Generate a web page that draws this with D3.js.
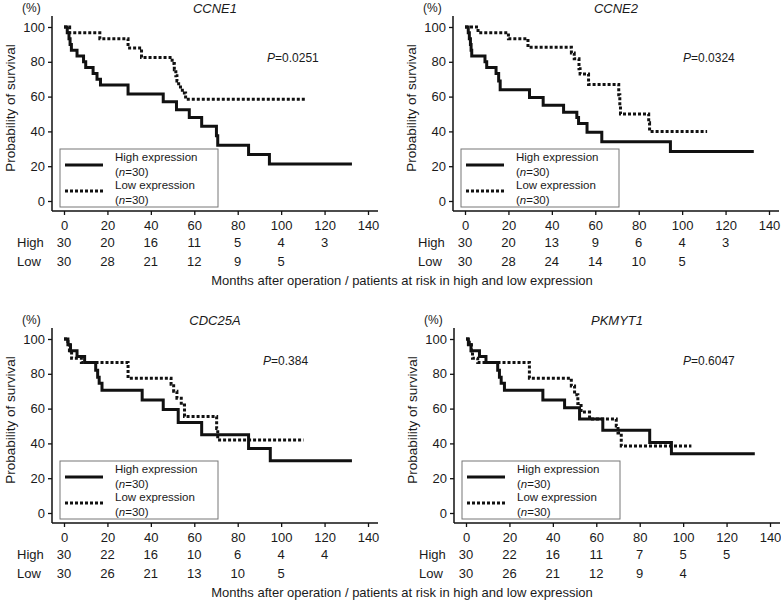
<!DOCTYPE html>
<html>
<head>
<meta charset="utf-8">
<script src="https://cdn.jsdelivr.net/npm/d3@7"></script>
<style>
  body { margin: 0; background: #fff; }
  text { font-family: "Liberation Sans", Arial, sans-serif; fill: #1a1a1a; }
</style>
</head>
<body>
<svg id="chart" width="781" height="600"></svg>
<script>
var xTicks = [0, 20, 40, 60, 80, 100, 120, 140];
var yTicks = [0, 20, 40, 60, 80, 100];
var riskTimes = [0, 20, 40, 60, 80, 100, 120];

// Kaplan-Meier steps: [month, survival %]
var ccne1High = [[0,100],[1.5,96.7],[2.3,93.3],[2.8,90],[3.4,86.7],[6,83.3],[9,80],[10,76.7],[13.4,73.3],[15.2,70],[16.8,66.7],[29.5,61.5],[45.7,57],[51.8,52.5],[57.7,48],[63.4,43],[70.2,37.5],[70.8,32],[85,26.7],[94.6,21.3],[132.6,21.3]];
var ccne1Low  = [[0,100],[2.6,96.7],[16.5,93.3],[29.5,88],[35.7,82.5],[49.8,79],[50.8,75.5],[51.5,72],[52,69],[52.8,65.5],[54.5,62],[56,58.5],[111,58.5]];
var ccne2High = [[0,100],[1.5,96.7],[2,93.3],[2.5,90],[2.8,86.7],[3.1,83.3],[9.2,80],[10,76.7],[14.3,73.3],[15.5,69],[16.2,64],[29.7,59.5],[36,55],[45.4,51],[51.5,48],[52.3,44.5],[56.2,39.5],[63,34],[94.6,28.5],[133,28.5]];
var ccne2Low  = [[0,100],[6,96.7],[20,93.3],[29,88.3],[49,85],[50.3,81.7],[52.5,76],[53,73],[56.9,67],[70.8,61],[71.3,55],[71.6,50],[84.6,45],[85,40],[111.5,40]];
var cdc25aHigh = [[0,100],[1.8,96.7],[3,93.3],[6,90],[9.5,86.5],[14.6,82],[15.5,78],[16.2,74.5],[17.5,70.5],[36,65],[45.7,59.5],[52.6,52],[63.4,45],[85,37],[95,30],[132.6,30]];
var cdc25aLow  = [[0,100],[1.8,96.7],[2.5,93.3],[3.5,89],[8,86.5],[29.5,77.5],[49.3,74],[50.5,70],[52,66],[54,62],[55.5,55.5],[70.3,48.5],[70.8,42],[110.3,42]];
var pkmyt1High = [[0,100],[1.1,96.7],[2.3,93.3],[6.2,90],[9.2,86.5],[14.6,82],[15.4,78],[16.2,74.5],[17.7,70.5],[35.4,65],[45.4,60.5],[52.3,54],[63,47.5],[84.6,40.5],[94.6,34],[133,34]];
var pkmyt1Low  = [[0,100],[1.5,96.7],[2.5,93.3],[3,89],[5.4,86.5],[29.2,77.5],[48.5,73],[50,68],[51.5,63],[53,58],[56.9,54],[69.2,50],[70,46],[71.5,38.5],[103.8,38.5]];

// patients at risk
var ccne1RiskHigh = [30, 20, 16, 11, 5, 4, 3];
var ccne1RiskLow  = [30, 28, 21, 12, 9, 5];
var ccne2RiskHigh = [30, 20, 13, 9, 6, 4, 3];
var ccne2RiskLow  = [30, 28, 24, 14, 10, 5];
var cdc25aRiskHigh = [30, 22, 16, 10, 6, 4, 4];
var cdc25aRiskLow  = [30, 26, 21, 13, 10, 5];
var pkmyt1RiskHigh = [30, 22, 16, 11, 7, 5, 5];
var pkmyt1RiskLow  = [30, 26, 21, 12, 9, 4];

var genes = ["CCNE1", "CCNE2", "CDC25A", "PKMYT1"];
var pValues = ["0.0251", "0.0324", "0.384", "0.6047"];

var panels = [
  {gene: genes[0], p: pValues[0], high: ccne1High, low: ccne1Low, rh: ccne1RiskHigh, rl: ccne1RiskLow, dx: 0, dy: 0, px: 267, py: 58},
  {gene: genes[1], p: pValues[1], high: ccne2High, low: ccne2Low, rh: ccne2RiskHigh, rl: ccne2RiskLow, dx: 401, dy: 0, px: 282, py: 58},
  {gene: genes[2], p: pValues[2], high: cdc25aHigh, low: cdc25aLow, rh: cdc25aRiskHigh, rl: cdc25aRiskLow, dx: 0, dy: 312, px: 263, py: 49},
  {gene: genes[3], p: pValues[3], high: pkmyt1High, low: pkmyt1Low, rh: pkmyt1RiskHigh, rl: pkmyt1RiskLow, dx: 402, dy: 312, px: 281, py: 49}
];

var svg = d3.select("#chart");

var x = d3.scaleLinear().domain([0, 140]).range([64, 368]);
var y = d3.scaleLinear().domain([0, 100]).range([201, 27]);
var axisY = 211, axisX = 52;

var line = d3.line()
  .x(function(d){ return x(d[0]); })
  .y(function(d){ return y(d[1]); })
  .curve(d3.curveStepAfter);

panels.forEach(function(p, i) {
  var g = svg.append("g").attr("transform", "translate(" + p.dx + "," + p.dy + ")");

  // axes
  var ya = g.append("g").attr("transform", "translate(" + axisX + ",0)")
    .call(d3.axisLeft(y).tickValues(yTicks).tickSize(4).tickPadding(3).tickSizeOuter(0));
  var xa = g.append("g").attr("transform", "translate(0," + axisY + ")")
    .call(d3.axisBottom(x).tickValues(xTicks).tickSize(4).tickPadding(6).tickSizeOuter(0));
  [ya, xa].forEach(function(a){
    a.select(".domain").remove();
    a.selectAll("line").attr("stroke", "#111").attr("stroke-width", 1.3);
    a.selectAll("text").style("font-size", "13px").attr("fill", "#1a1a1a");
  });
  g.append("line").attr("x1", axisX).attr("x2", axisX).attr("y1", 16).attr("y2", axisY)
    .attr("stroke", "#111").attr("stroke-width", 1.5);
  g.append("line").attr("x1", axisX).attr("x2", 378).attr("y1", axisY).attr("y2", axisY)
    .attr("stroke", "#111").attr("stroke-width", 1.5);

  // labels
  g.append("text").attr("x", 22).attr("y", 8).attr("dy", "0.35em")
    .style("font-size", "12px").text("(%)");
  g.append("text").attr("x", 215).attr("y", 8).attr("dy", "0.35em")
    .attr("text-anchor", "middle").style("font-size", "13px").style("font-style", "italic")
    .text(p.gene);
  g.append("text").attr("transform", "translate(10,108) rotate(-90)")
    .attr("text-anchor", "middle").attr("dy", "0.35em").style("font-size", "13.5px")
    .text("Probability of survival");
  var pt = g.append("text").attr("x", p.px).attr("y", p.py).attr("dy", "0.35em").style("font-size", "12px");
  pt.append("tspan").style("font-style", "italic").text("P");
  pt.append("tspan").text("=" + p.p);

  // curves
  g.append("path").datum(p.low).attr("d", line).attr("fill", "none")
    .attr("stroke", "#111").attr("stroke-width", 3).attr("stroke-dasharray", "3,2");
  g.append("path").datum(p.high).attr("d", line).attr("fill", "none")
    .attr("stroke", "#111").attr("stroke-width", 3);

  // legend
  var lg = g.append("g");
  lg.append("rect").attr("x", 60).attr("y", 149).attr("width", 158).attr("height", 58)
    .attr("fill", "#fff").attr("stroke", "#777").attr("stroke-width", 1);
  lg.append("line").attr("x1", 65).attr("x2", 103).attr("y1", 165).attr("y2", 165)
    .attr("stroke", "#111").attr("stroke-width", 3);
  lg.append("line").attr("x1", 65).attr("x2", 103).attr("y1", 191).attr("y2", 191)
    .attr("stroke", "#111").attr("stroke-width", 3).attr("stroke-dasharray", "3,2");
  var legRows = [["High expression", null, 157], [null, "30", 172], ["Low expression", null, 185], [null, "30", 200]];
  legRows.forEach(function(r) {
    var t = lg.append("text").attr("x", 115).attr("y", r[2]).attr("dy", "0.35em").style("font-size", "11.5px");
    if (r[0]) { t.text(r[0]); }
    else {
      t.append("tspan").text("(");
      t.append("tspan").style("font-style", "italic").text("n");
      t.append("tspan").text("=" + r[1] + ")");
    }
  });

  // risk table
  g.append("text").attr("x", 17).attr("y", 242).attr("dy", "0.35em").style("font-size", "13px").text("High");
  g.append("text").attr("x", 17).attr("y", 261).attr("dy", "0.35em").style("font-size", "13px").text("Low");
  g.selectAll("text.rh").data(p.rh).enter().append("text").attr("class", "rh")
    .attr("x", function(d, k){ return x(riskTimes[k]); }).attr("y", 242).attr("dy", "0.35em")
    .attr("text-anchor", "middle").style("font-size", "13px").text(function(d){ return d; });
  g.selectAll("text.rl").data(p.rl).enter().append("text").attr("class", "rl")
    .attr("x", function(d, k){ return x(riskTimes[k]); }).attr("y", 261).attr("dy", "0.35em")
    .attr("text-anchor", "middle").style("font-size", "13px").text(function(d){ return d; });

  if (i % 2 === 0) {
    svg.append("text").attr("x", 402).attr("y", 280 + p.dy).attr("dy", "0.35em")
      .attr("text-anchor", "middle").style("font-size", "13px")
      .text("Months after operation / patients at risk in high and low expression");
  }
});
</script>
</body>
</html>
